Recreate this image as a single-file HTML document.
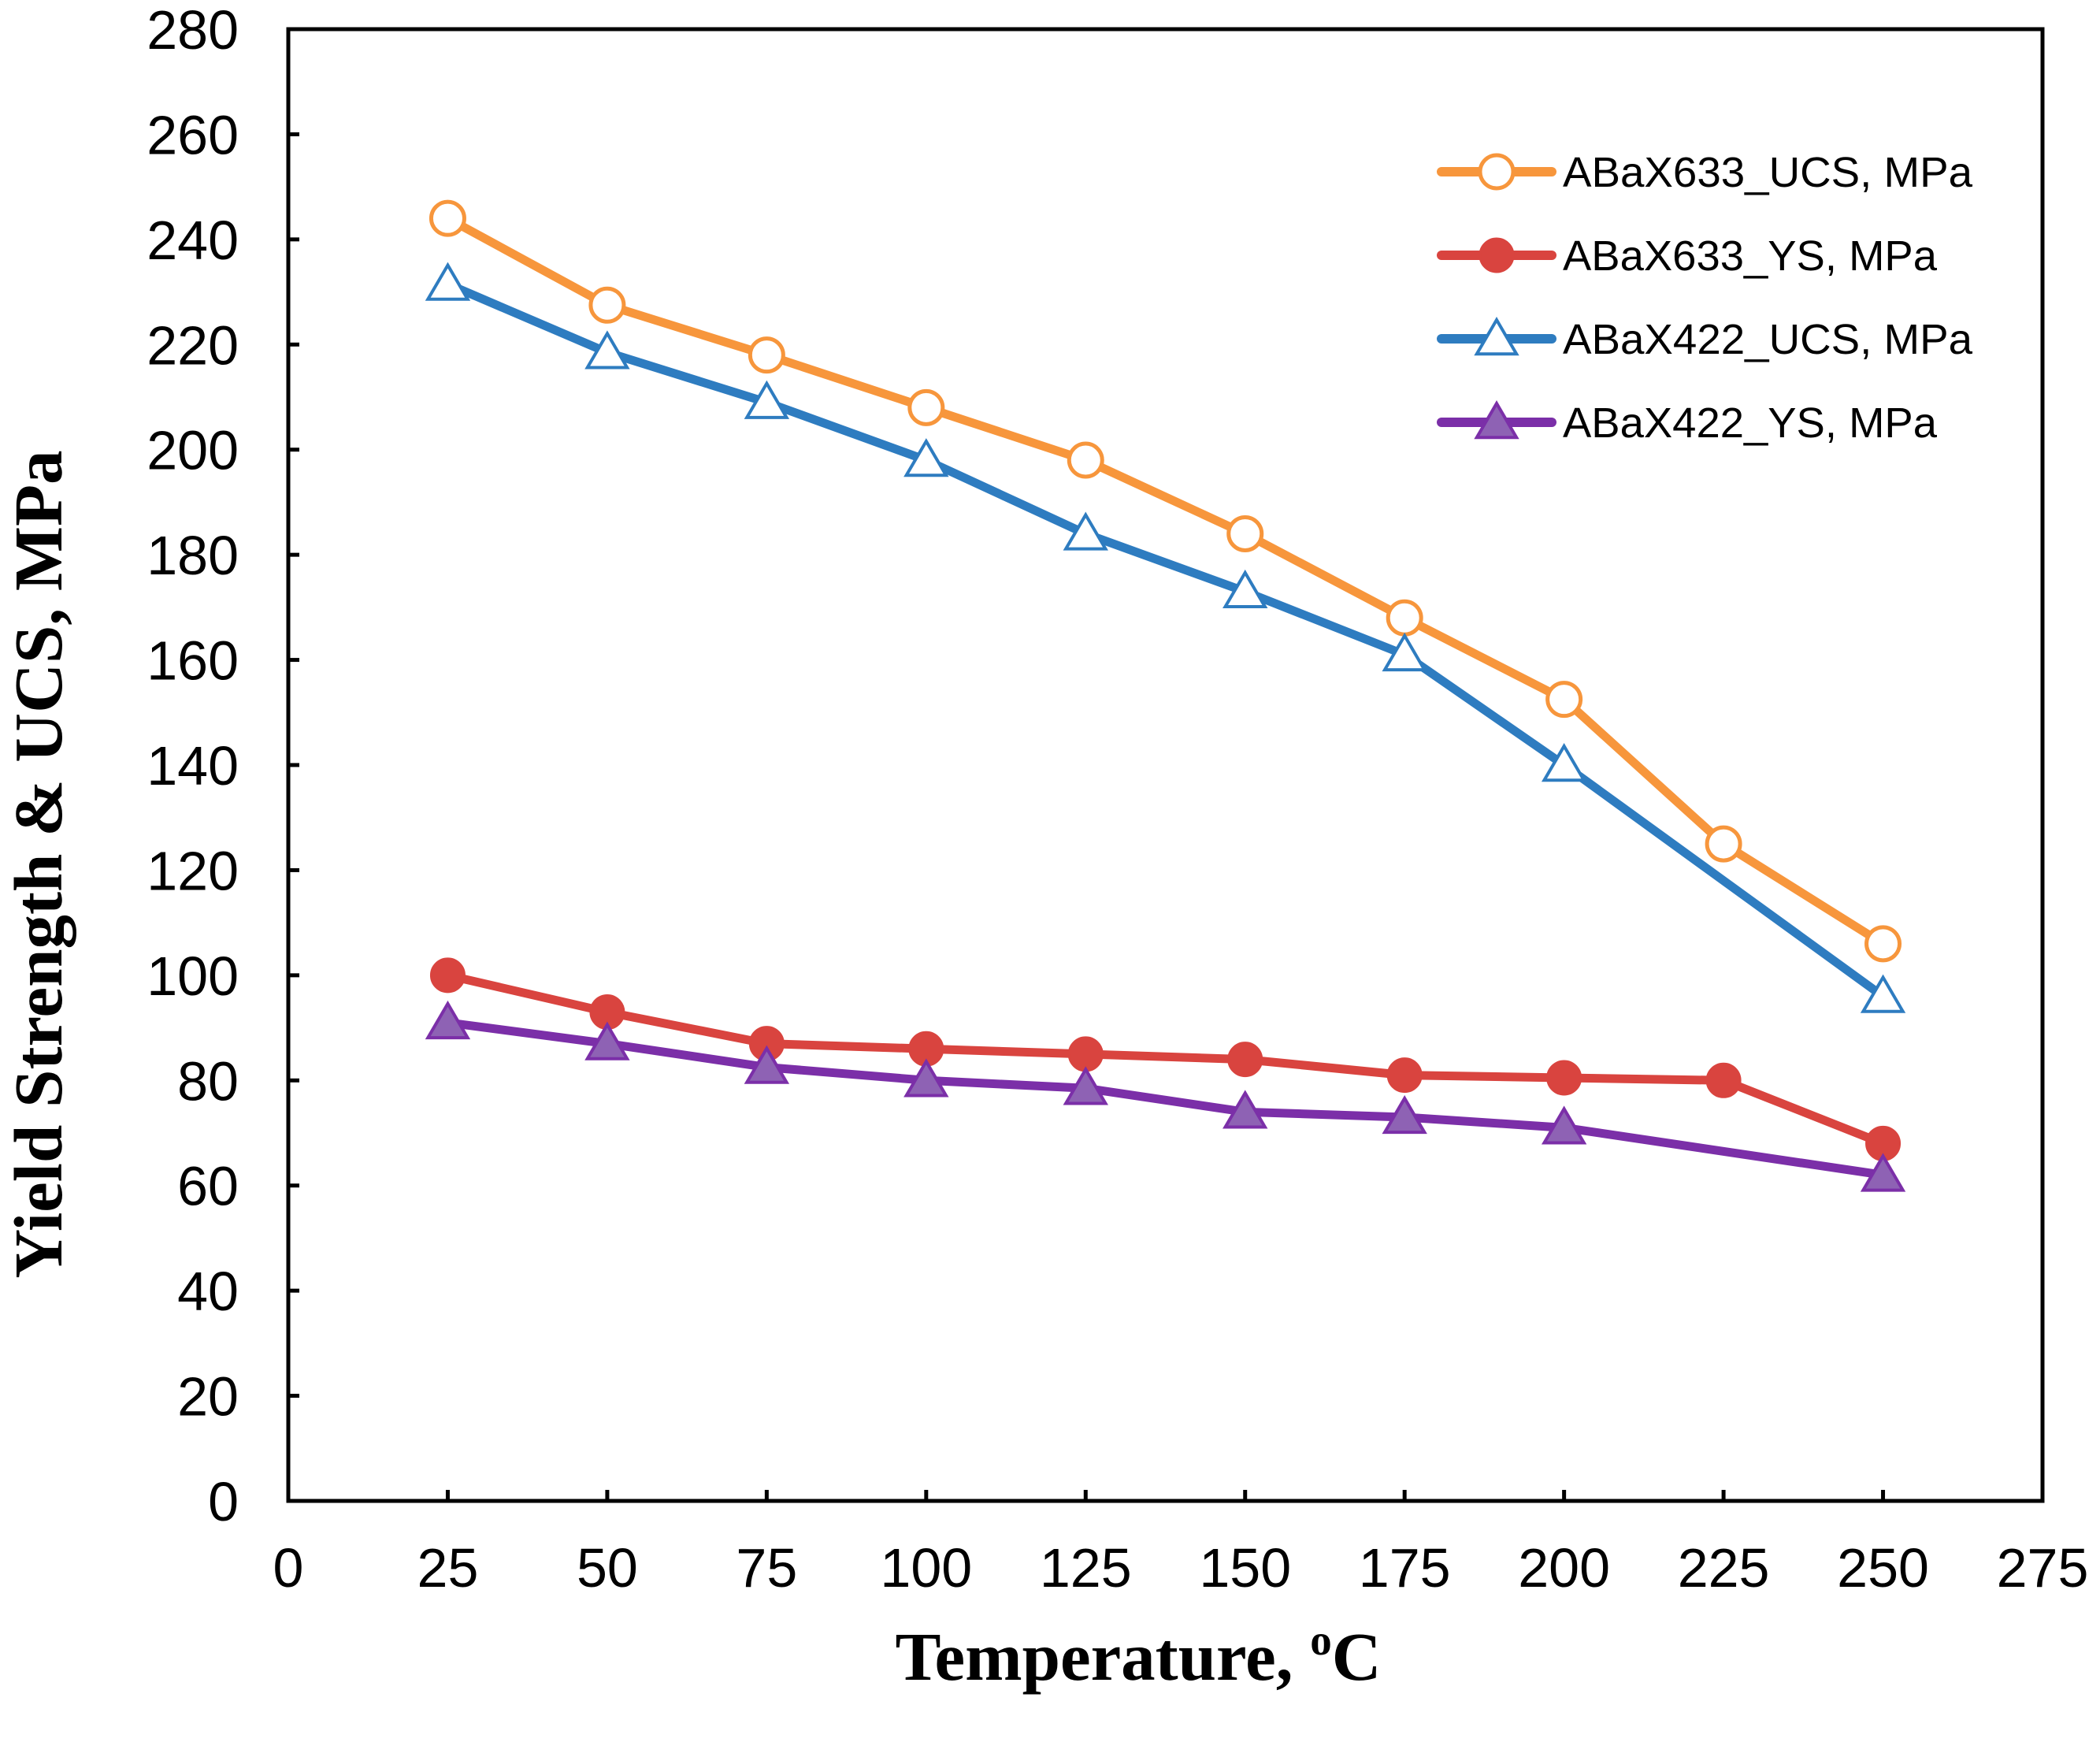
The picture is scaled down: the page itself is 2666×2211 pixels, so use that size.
<!DOCTYPE html>
<html><head><meta charset="utf-8"><style>
html,body{margin:0;padding:0;background:#fff;}
svg{display:block;}
</style></head><body>
<svg id="chart" width="2666" height="2211" viewBox="0 0 2666 2211" xmlns="http://www.w3.org/2000/svg">
<g id="grid"></g>
<g id="series"></g>
<g id="legend"></g>
</svg>
<script>
const xTicks = [0,25,50,75,100,125,150,175,200,225,250,275];
const yTicks = [0,20,40,60,80,100,120,140,160,180,200,220,240,260,280];
const temps = [25,50,75,100,125,150,175,200,225,250];
const ucs633 = [244,227.5,218,208,198,184,168,152.5,125,106];
const ys633 = [100,93,87,86,85,84,81,80.5,80,68];
const ucs422 = [231.5,218.5,209,198,184,173,161,140,null,96];
const ys422 = [91,87,82.5,80,78.5,74,73,71,null,62];
const seriesNames = ["ABaX633_UCS, MPa","ABaX633_YS, MPa","ABaX422_UCS, MPa","ABaX422_YS, MPa"];

const L=366,R=2593,T=37,B=1905;
const xs=v=>L+(v-0)/(275-0)*(R-L);
const ys=v=>B-(v-0)/(280-0)*(B-T);
const NS="http://www.w3.org/2000/svg";
const svg=document.getElementById('chart');
const grid=document.getElementById('grid');
const ser=document.getElementById('series');
const leg=document.getElementById('legend');
function mk(tag,attrs,parent){const e=document.createElementNS(NS,tag);for(const k in attrs)e.setAttribute(k,attrs[k]);parent.appendChild(e);return e;}

let f=mk('rect',{x:L,y:T,width:R-L,height:B-T,fill:'none',stroke:'#000','stroke-width':5},grid);


yTicks.forEach(v=>{
  const t=mk('line',{x1:L,x2:L+14,y1:ys(v),y2:ys(v),stroke:'#000','stroke-width':5},grid);
  
  
  const tx=mk('text',{x:303,y:ys(v)+25,'text-anchor':'end','font-family':'Liberation Sans, sans-serif','font-size':70,fill:'#000'},grid);
  tx.textContent=v;
  
  
});
xTicks.forEach(v=>{
  const t=mk('line',{x1:xs(v),x2:xs(v),y1:B,y2:B-14,stroke:'#000','stroke-width':5},grid);
  
  
  const tx=mk('text',{x:xs(v),y:2014,'text-anchor':'middle','font-family':'Liberation Sans, sans-serif','font-size':70,fill:'#000'},grid);
  tx.textContent=v;
  
  
});
let xt=mk('text',{x:1445,y:2132,'text-anchor':'middle','font-family':'Liberation Serif, serif','font-weight':'bold','font-size':87,fill:'#000'},grid);
xt.innerHTML='Temperature, <tspan font-size="55" dy="-32">o</tspan><tspan dy="32">C</tspan>';


let yt=mk('text',{x:0,y:0,transform:'translate(78,1097) rotate(-90)','text-anchor':'middle','font-family':'Liberation Serif, serif','font-weight':'bold','font-size':87,fill:'#000'},grid);
yt.textContent='Yield Strength & UCS, MPa';



function marker(type,cx,cy,color,fill,parent){
  let m;
  if(type==='circle'){m=mk('circle',{cx:cx,cy:cy,r:21,fill:fill,stroke:color,'stroke-width':fill==='#fff'?5:3},parent);}
  else{const s=24;m=mk('polygon',{points:`${cx},${cy-s} ${cx+s*1.05},${cy+s*0.8} ${cx-s*1.05},${cy+s*0.8}`,fill:fill,stroke:color,'stroke-width':4},parent);}
  return m;
}
const defs=[
 {data:ucs633,color:'#F7963C',fill:'#fff',type:'circle',name:'series-abax633-ucs'},
 {data:ys633,color:'#D9443F',fill:'#D9443F',type:'circle',name:'series-abax633-ys'},
 {data:ucs422,color:'#2E7CC0',fill:'#fff',type:'tri',name:'series-abax422-ucs'},
 {data:ys422,color:'#7B2FA8',fill:'#8E62B4',type:'tri',name:'series-abax422-ys'}
];
defs.forEach((d,i)=>{
  const g=mk('g',{},ser);
  
  
  const pts=[];
  d.data.forEach((v,j)=>{if(v!==null)pts.push(xs(temps[j])+','+ys(v));});
  const pl=mk('polyline',{points:pts.join(' '),fill:'none',stroke:d.color,'stroke-width':11,'stroke-linejoin':'round'},g);
  
  
  d.data.forEach((v,j)=>{if(v===null)return;
    const m=marker(d.type,xs(temps[j]),ys(v),d.color,d.fill,g);
    
    
  });
  const ly=218+i*106;
  const lg=mk('g',{},leg);
  
  
  mk('line',{x1:1830,x2:1970,y1:ly,y2:ly,stroke:d.color,'stroke-width':12,'stroke-linecap':'round'},lg);
  marker(d.type,1900,ly,d.color,d.fill,lg);
  const tx=mk('text',{x:1984,y:ly+19,'font-family':'Liberation Sans Narrow, Liberation Sans, sans-serif','font-size':54,fill:'#000',textLength:(i%2===0?520:475),lengthAdjust:'spacingAndGlyphs'},lg);
  tx.textContent=seriesNames[i];
});
</script>
</body></html>
